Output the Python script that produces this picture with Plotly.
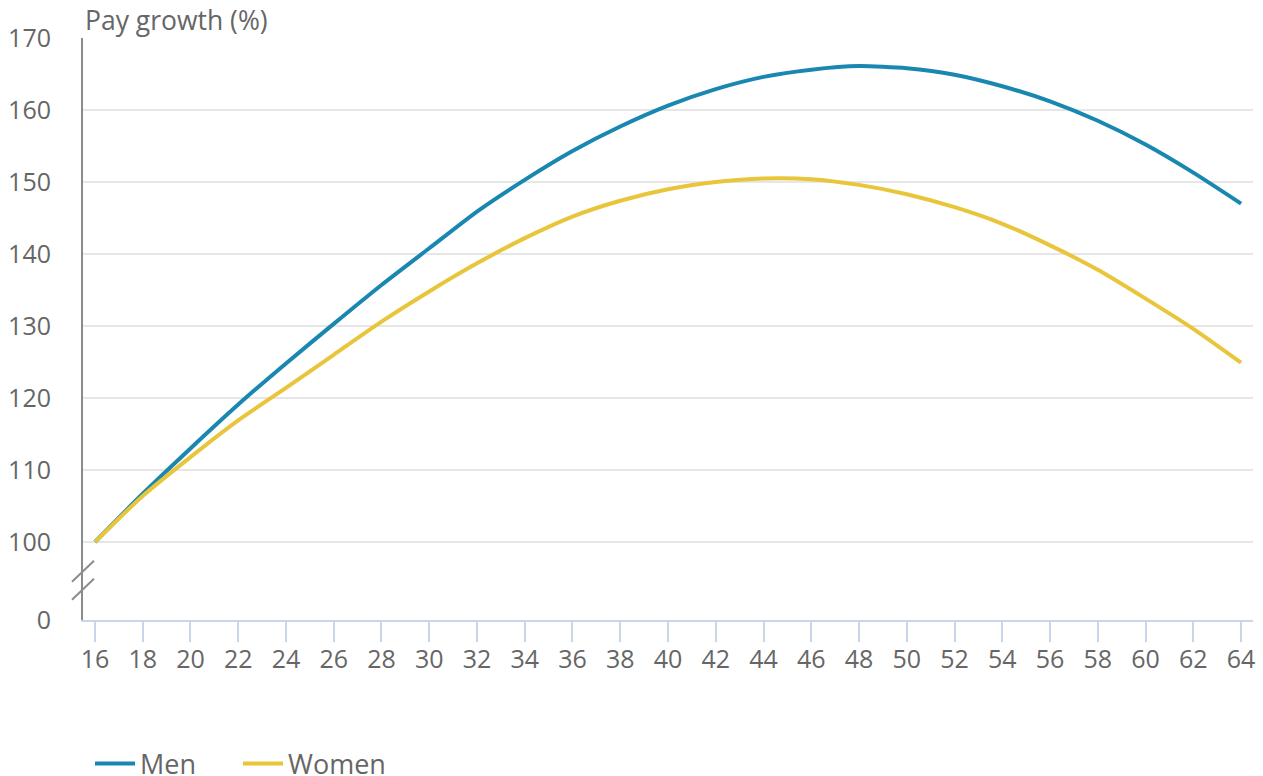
import plotly.graph_objects as go

ages = [16, 18, 20, 22, 24, 26, 28, 30, 32, 34, 36, 38, 40, 42, 44, 46, 48, 50, 52, 54, 56, 58, 60, 62, 64]
men = [100, 106.7, 113.0, 119.1, 124.8, 130.3, 135.7, 140.8, 145.9, 150.3, 154.3, 157.7, 160.6,
       162.9, 164.6, 165.6, 166.1, 165.8, 164.9, 163.3, 161.2, 158.5, 155.2, 151.3, 147.0]
women = [100, 106.4, 111.8, 116.9, 121.4, 126.0, 130.6, 134.8, 138.7, 142.2, 145.2, 147.4, 149.0,
         150.0, 150.5, 150.4, 149.6, 148.3, 146.5, 144.2, 141.2, 137.8, 133.8, 129.6, 124.9]

y_ticks = [100, 110, 120, 130, 140, 150, 160, 170]
x_ticks = list(range(16, 65, 2))
axis_floor = 89.17  # position standing in for 0 below the axis break

MEN_COLOR = "#1a87b1"
WOMEN_COLOR = "#e8c53a"
TEXT = "#666666"
FONT = "Open Sans"

fig = go.Figure()
fig.add_trace(go.Scatter(x=ages, y=men, name="Men", mode="lines",
                         line=dict(color=MEN_COLOR, width=4, shape="spline", smoothing=0.6)))
fig.add_trace(go.Scatter(x=ages, y=women, name="Women", mode="lines",
                         line=dict(color=WOMEN_COLOR, width=4, shape="spline", smoothing=0.6)))

fig.update_layout(
    width=1263, height=776,
    margin=dict(l=83, r=10, t=38, b=156, autoexpand=False),
    paper_bgcolor="white", plot_bgcolor="white",
    font=dict(family=FONT, size=26, color=TEXT),
    showlegend=True,
    legend=dict(orientation="h", x=7 / 1170, xanchor="left", xref="paper",
                y=12 / 776, yanchor="middle", yref="container",
                font=dict(size=27, color=TEXT), bgcolor="rgba(0,0,0,0)",
                entrywidth=93, entrywidthmode="pixels", itemwidth=40),
    xaxis=dict(range=[15.5, 64.5], tickvals=x_ticks, ticktext=[str(v) for v in x_ticks],
               showgrid=False, zeroline=False, showline=True, linecolor="#c9d6ea", linewidth=2,
               ticks="outside", ticklen=20, tickwidth=2, tickcolor="#c9d6ea",
               ticklabelstandoff=-4,
               tickfont=dict(size=25, color=TEXT), automargin=False),
    yaxis=dict(range=[axis_floor, 170], tickvals=[axis_floor] + y_ticks,
               ticktext=["0"] + [str(v) for v in y_ticks],
               showgrid=True, gridcolor="#e6e6e6", gridwidth=2, zeroline=False,
               showline=True, linecolor="#8c8c8c", linewidth=2, ticks="",
               ticklabelstandoff=25, tickfont=dict(size=25, color=TEXT), automargin=False),
)

# axis break marks
for yc in [95.94, 93.44]:
    fig.add_shape(type="line", xref="x domain", yref="y",
                  xsizemode="pixel", ysizemode="pixel", xanchor=0, yanchor=yc,
                  x0=-11, x1=11, y0=-10.5, y1=10.5,
                  line=dict(color="#8c8c8c", width=2))

fig.add_annotation(text="Pay growth (%)", xref="paper", yref="paper", x=0, y=1,
                   xanchor="left", yanchor="bottom", xshift=0, yshift=-2, showarrow=False,
                   font=dict(size=26.5, color=TEXT, family=FONT))

fig.write_html("out.html", config={"displayModeBar": False},
               post_script="document.body.style.margin='0';document.body.style.overflow='hidden';")
